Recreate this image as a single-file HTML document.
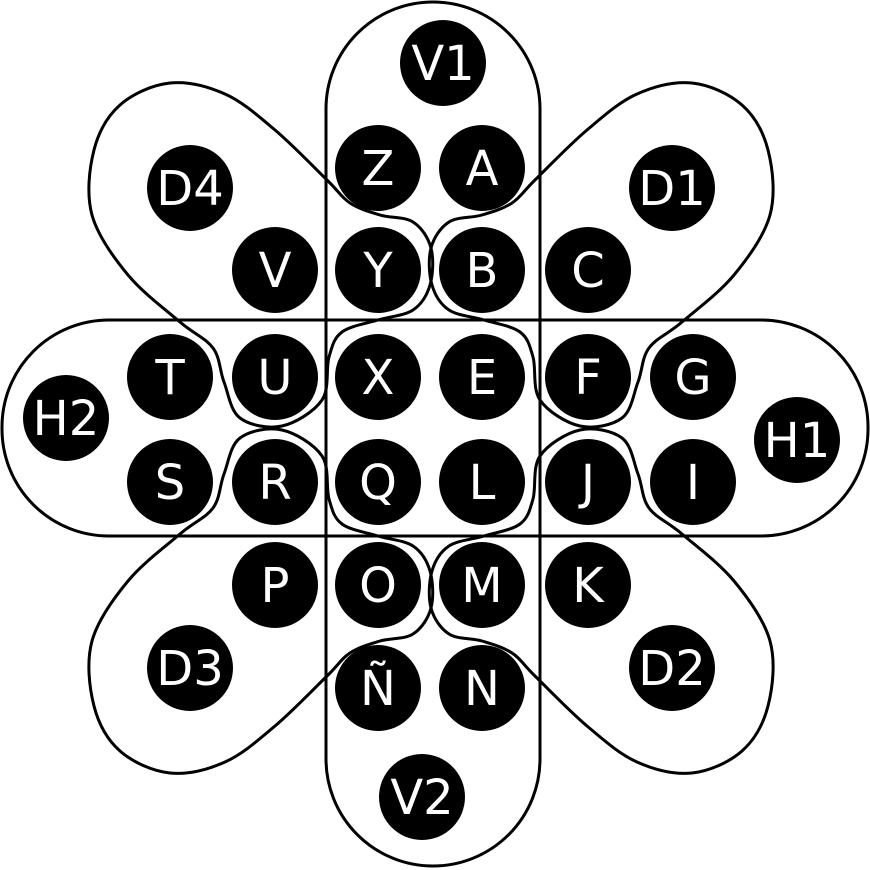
<!DOCTYPE html>
<html><head><meta charset="utf-8">
<style>html,body{margin:0;padding:0;background:#fff}svg{display:block}</style></head>
<body>
<svg id="s" width="870" height="870" viewBox="0 0 870 870" xmlns="http://www.w3.org/2000/svg">
<g fill="none" stroke="#000" stroke-width="3">
<rect x="326" y="2" width="214" height="864" rx="107" ry="107"/>
<rect x="2" y="320" width="866" height="216" rx="107" ry="107"/>
<path id="d4"/><path id="d1"/><path id="d2"/><path id="d3"/>
</g>
<g id="c" fill="#000"></g>
<g id="t" fill="#fff" font-family="DejaVu Sans, sans-serif" font-size="48" text-anchor="middle">
<text x="443" y="80">V1</text>
<text x="378" y="185">Z</text><text x="482" y="185">A</text>
<text x="190" y="205">D4</text><text x="672" y="205">D1</text>
<text x="275" y="287">V</text><text x="378" y="287">Y</text><text x="482" y="287">B</text><text x="588" y="287">C</text>
<text x="170" y="394">T</text><text x="275" y="394">U</text><text x="378" y="394">X</text><text x="482" y="394">E</text><text x="588" y="394">F</text><text x="693" y="394">G</text>
<text x="66" y="435">H2</text><text x="797" y="457">H1</text>
<text x="170" y="499">S</text><text x="275" y="499">R</text><text x="378" y="499">Q</text><text x="482" y="499">L</text><text x="588" y="499">J</text><text x="693" y="499">I</text>
<text x="275" y="602">P</text><text x="378" y="602">O</text><text x="482" y="602">M</text><text x="588" y="602">K</text>
<text x="190" y="685">D3</text><text x="672" y="685">D2</text>
<text x="378" y="705">Ñ</text><text x="482" y="705">N</text>
<text x="422" y="814">V2</text>
</g>
</svg>
<script>
var circ=[[443,63],[378,168],[482,168],[190,188],[672,188],[275,270],[378,270],[482,270],[588,270],
[170,377],[275,377],[378,377],[482,377],[588,377],[693,377],[66,418],[797,440],
[170,482],[275,482],[378,482],[482,482],[588,482],[693,482],[275,585],[378,585],[482,585],[588,585],
[190,668],[672,668],[378,688],[482,688],[422,797]];
var g=document.getElementById('c'),ns='http://www.w3.org/2000/svg';
circ.forEach(function(p){var c=document.createElementNS(ns,'circle');c.setAttribute('cx',p[0]);c.setAttribute('cy',p[1]);c.setAttribute('r',43);g.appendChild(c);});
var P=[[170,83],[225,94],[275,130],[327,180],[350,203],[380,215],[413,222],[431,248],[430,285],[413,310],[378,320],[342,332],[329,357],[322,400],[282,426],[240,418],[224,382],[213,348],[180,322],[128,275],[92,215],[94,150],[120,105]];
function path(pts){var n=pts.length,d='M'+pts[0][0]+','+pts[0][1];
for(var i=0;i<n;i++){var p0=pts[(i-1+n)%n],p1=pts[i],p2=pts[(i+1)%n],p3=pts[(i+2)%n];
var c1=[p1[0]+(p2[0]-p0[0])/6,p1[1]+(p2[1]-p0[1])/6],c2=[p2[0]-(p3[0]-p1[0])/6,p2[1]-(p3[1]-p1[1])/6];
d+=' C'+c1[0].toFixed(1)+','+c1[1].toFixed(1)+' '+c2[0].toFixed(1)+','+c2[1].toFixed(1)+' '+p2[0]+','+p2[1];}
return d+'Z';}
document.getElementById('d4').setAttribute('d',path(P));
document.getElementById('d1').setAttribute('d',path(P.map(function(p){return[862-p[0],p[1]]})));
document.getElementById('d2').setAttribute('d',path(P.map(function(p){return[862-p[0],856-p[1]]})));
document.getElementById('d3').setAttribute('d',path(P.map(function(p){return[p[0],856-p[1]]})));
</script>
</body></html>
